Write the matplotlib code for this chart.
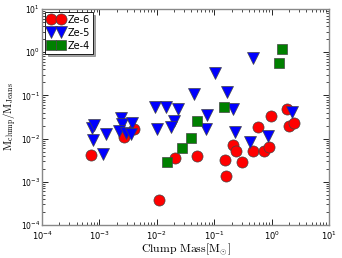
import matplotlib
matplotlib.use("Agg")
import matplotlib.pyplot as plt

# clump mass [Msun] vs M_clump / M_Jeans, one pair of lists per metallicity run
ze6_mass = [7.1e-4, 2.7e-3, 4.0e-3, 1.1e-2, 2.1e-2, 5.1e-2, 0.155, 0.16, 0.21, 0.24,
            0.305, 0.47, 0.59, 0.75, 0.91, 0.98, 1.83, 2.03, 2.48]
ze6_ratio = [4.2e-3, 1.1e-2, 1.7e-2, 3.8e-4, 3.6e-3, 3.9e-3, 3.2e-3, 1.35e-3, 7.3e-3, 5.1e-3,
             2.8e-3, 5.3e-3, 1.9e-2, 5.3e-3, 6.5e-3, 3.4e-2, 4.8e-2, 1.95e-2, 2.35e-2]

ze5_mass = [7.5e-4, 8.0e-4, 7.8e-4, 1.15e-3, 1.3e-3, 2.4e-3, 2.45e-3, 3.7e-3, 2.2e-3, 2.9e-3,
            3.6e-3, 9.3e-3, 1.0e-2, 1.45e-2, 2.0e-2, 1.8e-2, 2.37e-2, 4.4e-2, 0.105, 0.17,
            7.4e-2, 7.1e-2, 0.21, 0.23, 0.42, 0.86, 0.47, 2.24]
ze5_ratio = [1.75e-2, 2.07e-2, 9.4e-3, 4.4e-3, 1.25e-2, 3.05e-2, 2.2e-2, 2.3e-2, 1.5e-2, 1.35e-2,
             1.3e-2, 5.5e-2, 1.64e-2, 5.3e-2, 2.6e-2, 1.9e-2, 4.8e-2, 0.11, 0.336, 0.12,
             3.6e-2, 1.64e-2, 4.8e-2, 1.44e-2, 8.2e-3, 1.17e-2, 0.72, 4.2e-2]

ze4_mass = [1.48e-2, 2.7e-2, 3.95e-2, 5.1e-2, 0.15, 1.33, 1.54]
ze4_ratio = [2.8e-3, 6.0e-3, 1.05e-2, 2.55e-2, 5.3e-2, 0.55, 1.17]

fig = plt.figure(figsize=(3.42, 2.58), dpi=100)
ax = fig.add_axes([0.123, 0.128, 0.839, 0.837])

edge = "#444444"
ax.plot(ze6_mass, ze6_ratio, "o", color="red", ms=8, mec=edge, mew=0.5, label="Ze-6")
ax.plot(ze5_mass, ze5_ratio, "v", color="blue", ms=8, mec=edge, mew=0.5, label="Ze-5")
ax.plot(ze4_mass, ze4_ratio, "s", color="green", ms=7, mec=edge, mew=0.5, label="Ze-4")

ax.set_xscale("log")
ax.set_yscale("log")
ax.set_xlim(1e-4, 10)
ax.set_ylim(1e-4, 10)

for spine in ax.spines.values():
    spine.set_color("#888888")
    spine.set_linewidth(1.0)
ax.tick_params(which="both", direction="in", top=True, right=True)
ax.tick_params(axis="x", labelsize=6, pad=3.5)
ax.tick_params(axis="y", labelsize=5.5, pad=1.5)
ax.tick_params(which="major", length=4, width=0.6)
ax.tick_params(which="minor", length=2, width=0.5)

ax.set_xlabel(r"$\mathrm{Clump\ Mass[M_{\odot}]}$", fontsize=8.5, math_fontfamily="cm")
ax.xaxis.set_label_coords(0.5, -0.075)
ax.set_ylabel(r"$\mathrm{M_{clump}/M_{Jeans}}$", fontsize=8, math_fontfamily="cm")
ax.yaxis.set_label_coords(-0.08, 0.5)

leg = ax.legend(loc="upper left", numpoints=2, fontsize=7, fancybox=False, shadow=True,
                borderaxespad=0.3, handletextpad=0.4, labelspacing=0.3, borderpad=0.3,
                handlelength=1.6)
leg.get_frame().set_edgecolor("black")
leg.get_frame().set_linewidth(0.6)

fig.savefig("out.png", dpi=100)
